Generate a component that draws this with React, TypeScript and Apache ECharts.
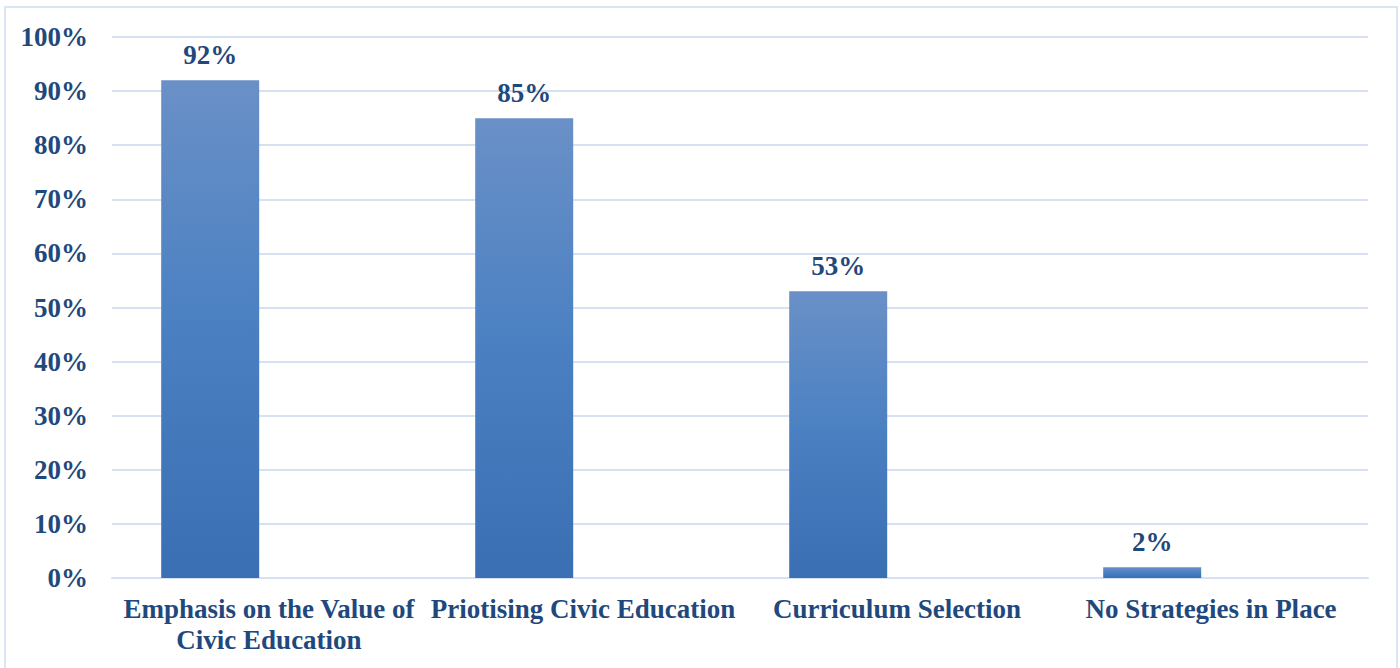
import React, { useEffect, useRef } from "react";
import * as echarts from "echarts";

const categories = [
  "Emphasis on the Value of\nCivic Education",
  "Priotising Civic Education",
  "Curriculum Selection",
  "No Strategies in Place",
];
const values = [0.92, 0.85, 0.53, 0.02];
const emptySeries = [null, null, null, null];
const yTicks = { min: 0, max: 1, interval: 0.1 };

const FONT = "'Liberation Serif', 'Times New Roman', serif";
const TEXT_COLOR = "#1f497d";

export default function App() {
  const ref = useRef<HTMLDivElement>(null);
  useEffect(() => {
    const chart = echarts.init(ref.current!, null, { renderer: "svg" });
    chart.setOption({
      animation: false,
      backgroundColor: "#ffffff",
      graphic: [
        {
          type: "rect",
          shape: { x: 5, y: 7, width: 1392, height: 690 },
          style: { fill: "none", stroke: "#d9e4f4", lineWidth: 2 },
          silent: true,
        },
      ],
      grid: { left: 112, right: 32, top: 37, bottom: 90 },
      xAxis: {
        type: "category",
        data: categories,
        axisTick: { show: false },
        axisLine: { show: true, lineStyle: { color: "#d6e2f4", width: 2 } },
        axisLabel: {
          interval: 0,
          margin: 15,
          fontFamily: FONT,
          fontWeight: "bold",
          fontSize: 27,
          lineHeight: 31,
          color: TEXT_COLOR,
        },
      },
      yAxis: {
        type: "value",
        min: yTicks.min,
        max: yTicks.max,
        interval: yTicks.interval,
        axisLine: { show: false },
        axisTick: { show: false },
        splitLine: { lineStyle: { color: "#d6e2f4", width: 2 } },
        axisLabel: {
          margin: 24,
          fontFamily: FONT,
          fontWeight: "bold",
          fontSize: 27,
          color: TEXT_COLOR,
          formatter: (v: number) => Math.round(v * 100) + "%",
        },
      },
      series: [
        {
          type: "bar",
          data: values,
          barWidth: 98,
          barGap: "20%",
          itemStyle: {
            color: new echarts.graphic.LinearGradient(0, 0, 0, 1, [
              { offset: 0, color: "#6a90c7" },
              { offset: 0.5, color: "#4a80c2" },
              { offset: 1, color: "#3a70b3" },
            ]),
          },
          label: {
            show: true,
            position: "top",
            distance: 12,
            fontFamily: FONT,
            fontWeight: "bold",
            fontSize: 27,
            color: TEXT_COLOR,
            formatter: (p: any) => Math.round(p.value * 100) + "%",
          },
        },
        {
          type: "bar",
          data: emptySeries,
          barWidth: 98,
        },
      ],
    });
    return () => chart.dispose();
  }, []);
  return (
    <div
      ref={ref}
      style={{ position: "absolute", left: 0, top: 0, width: 1400, height: 668 }}
    />
  );
}
